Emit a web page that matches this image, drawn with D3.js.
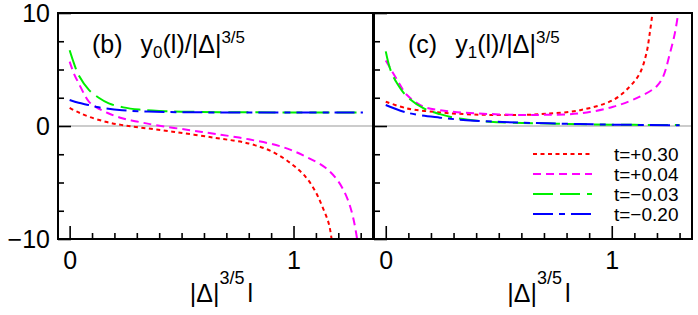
<!DOCTYPE html>
<html><head><meta charset="utf-8">
<script src="https://cdn.jsdelivr.net/npm/d3@7/dist/d3.min.js"></script>
<style>
body{margin:0;background:#fff;}
svg{display:block;}
text{font-family:"Liberation Sans",Arial,Helvetica,sans-serif;fill:#000;}
</style></head>
<body><svg id="chart" width="698" height="315"></svg>
<script>
// ---------- data ----------
const seriesLabels = ["t=+0.30", "t=+0.04", "t=\u22120.03", "t=\u22120.20"];
const seriesColors = ["#ff0000", "#ff00ff", "#00ee00", "#0000ff"];
const seriesDash = ["4,3.5", "8,5", "20,7", "20,6,6,6"];

const xMajorTicks = [0, 1];
const xMajorLabels = ["0", "1"];
const xMinorTicks = [0.1,0.2,0.3,0.4,0.5,0.6,0.7,0.8,0.9,1.1,1.2,1.3];
const yMajorTicks = [-10, 0, 10];
const yMajorLabels = ["\u221210", "0", "10"];
const yMinorTicks = [-7.5, -5, -2.5, 2.5, 5, 7.5];

// panel (b): y0(l)/|Δ|^{3/5}
const y0_tp030 = [[0,1.6],[0.04,1.2],[0.086,0.82],[0.16,0.38],[0.23,0.1],[0.31,-0.12],[0.46,-0.5],[0.65,-1.05],[0.80,-1.55],[0.905,-2.27],[0.994,-3.4],[1.054,-4.5],[1.098,-5.8],[1.128,-7.1],[1.157,-8.6],[1.17,-10],[1.176,-11]];
const y0_tp004 = [[0,5.7],[0.02,4.6],[0.04,3.8],[0.086,2.15],[0.116,1.7],[0.17,1.15],[0.235,0.68],[0.3,0.4],[0.38,0.09],[0.53,-0.35],[0.652,-0.7],[0.80,-1.18],[0.95,-1.85],[1.054,-2.7],[1.143,-3.7],[1.20,-4.9],[1.24,-6.4],[1.265,-8.0],[1.284,-10],[1.29,-11]];
const y0_tm003 = [[0,6.7],[0.02,5.5],[0.04,4.5],[0.086,3.2],[0.13,2.5],[0.175,2.0],[0.24,1.65],[0.31,1.45],[0.4,1.33],[0.5,1.27],[0.7,1.22],[1.0,1.2],[1.31,1.2]];
const y0_tm020 = [[0,2.3],[0.04,2.05],[0.085,1.86],[0.13,1.65],[0.235,1.4],[0.35,1.28],[0.5,1.22],[0.8,1.2],[1.31,1.2]];

// panel (c): y1(l)/|Δ|^{3/5}
const y1_tp030 = [[0,2.15],[0.094,1.56],[0.24,1.2],[0.35,1.05],[0.46,0.98],[0.6,0.98],[0.71,1.08],[0.86,1.4],[1.006,2.3],[1.08,3.5],[1.124,4.66],[1.153,6.4],[1.168,8.2],[1.18,10],[1.185,11]];
const y1_tp004 = [[0,5.8],[0.05,4.1],[0.094,2.74],[0.168,1.7],[0.24,1.4],[0.316,1.22],[0.46,1.06],[0.6,0.98],[0.71,0.99],[0.86,1.12],[1.006,1.7],[1.124,2.6],[1.198,3.5],[1.227,4.36],[1.257,6.4],[1.279,8.2],[1.294,10],[1.3,11]];
const y1_tm003 = [[0,6.6],[0.021,4.96],[0.05,3.78],[0.094,2.6],[0.168,1.56],[0.24,1.05],[0.316,0.68],[0.46,0.38],[0.68,0.24],[0.9,0.15],[1.1,0.1],[1.3,0.08]];
const y1_tm020 = [[0,1.86],[0.094,1.18],[0.24,0.74],[0.39,0.47],[0.61,0.29],[0.8,0.2],[1.0,0.12],[1.3,0.07]];

const panels = [
  {id:"b", sub:"0", series:[y0_tp030, y0_tp004, y0_tm003, y0_tm020], x0:58, x1:373, leftLabels:true, legend:false},
  {id:"c", sub:"1", series:[y1_tp030, y1_tp004, y1_tm003, y1_tm020], x0:374, x1:692, leftLabels:false, legend:true}
];

// ---------- drawing ----------
const svg = d3.select("#chart");
const plotTop = 13, plotBottom = 239;
const y = d3.scaleLinear().domain([-10, 10]).range([plotBottom, plotTop]);

panels.forEach((p, pi) => {
  const x = d3.scaleLinear().domain([-0.052, 1.355]).range([p.x0, p.x1]);
  const g = svg.append("g");
  const clipId = "clip" + pi;
  svg.append("clipPath").attr("id", clipId).append("rect")
    .attr("x", p.x0).attr("y", plotTop).attr("width", p.x1 - p.x0).attr("height", plotBottom - plotTop);

  // zero line
  g.append("line").attr("x1", p.x0).attr("x2", p.x1).attr("y1", y(0)).attr("y2", y(0))
    .attr("stroke", "#999").attr("stroke-width", 1);

  // curves
  const line = d3.line().x(d => x(d[0])).y(d => y(d[1])).curve(d3.curveCatmullRom.alpha(0.5));
  const cg = g.append("g").attr("clip-path", `url(#${clipId})`);
  p.series.forEach((s, i) => {
    cg.append("path").datum(s).attr("d", line).attr("fill", "none")
      .attr("stroke", seriesColors[i]).attr("stroke-width", 2)
      .attr("stroke-dasharray", seriesDash[i]);
  });

  // axes: y minor + major (inward)
  const yMinor = g.append("g").attr("transform", `translate(${p.x0},0)`)
    .call(d3.axisLeft(y).tickValues(yMinorTicks).tickSize(-6).tickFormat(""));
  const yMajor = g.append("g").attr("transform", `translate(${p.x0},0)`)
    .call(d3.axisLeft(y).tickValues(yMajorTicks).tickSize(-13).tickPadding(8)
      .tickFormat((d, i) => p.leftLabels ? yMajorLabels[i] : ""));
  const xMinor = g.append("g").attr("transform", `translate(0,${plotBottom})`)
    .call(d3.axisBottom(x).tickValues(xMinorTicks).tickSize(-6).tickFormat(""));
  const xMajor = g.append("g").attr("transform", `translate(0,${plotBottom})`)
    .call(d3.axisBottom(x).tickValues(xMajorTicks).tickSize(-13).tickPadding(12)
      .tickFormat((d, i) => xMajorLabels[i]));
  [yMinor, yMajor, xMinor, xMajor].forEach(a => {
    a.select(".domain").remove();
    a.selectAll(".tick line").attr("stroke", "#000").attr("stroke-width", 1.6);
    a.selectAll("text").style("font-family", '"Liberation Sans",Arial,sans-serif')
      .style("font-size", "25px").attr("fill", "#000");
  });

  // frame
  g.append("rect").attr("x", p.x0).attr("y", plotTop).attr("width", p.x1 - p.x0).attr("height", plotBottom - plotTop)
    .attr("fill", "none").attr("stroke", "#000").attr("stroke-width", 2);

  // panel title
  const t = g.append("text").attr("x", p.x0 + 34).attr("y", 53).style("font-size", "25px");
  t.append("tspan").text(`(${p.id})`);
  t.append("tspan").attr("dx", 18).text("y");
  t.append("tspan").attr("dy", 5).style("font-size", "17px").text(p.sub);
  t.append("tspan").attr("dy", -5).text("(l)/|\u0394|");
  t.append("tspan").attr("dy", -10).style("font-size", "17px").text("3/5");

  // x-axis title
  const cx = (p.x0 + p.x1) / 2 + 6;
  const xt = g.append("text").attr("x", cx).attr("y", 302).attr("text-anchor", "middle").style("font-size", "25px");
  xt.append("tspan").text("|\u0394|");
  xt.append("tspan").attr("dy", -18).style("font-size", "18px").text("3/5");
  xt.append("tspan").attr("dy", 18).attr("dx", 3).text("l");

  // legend
  if (p.legend) {
    seriesLabels.forEach((lab, i) => {
      const ly = 154 + i * 20;
      g.append("line").attr("x1", 533).attr("x2", 592).attr("y1", ly).attr("y2", ly)
        .attr("stroke", seriesColors[i]).attr("stroke-width", 2).attr("stroke-dasharray", seriesDash[i]);
      g.append("text").attr("x", 614).attr("y", ly + 7).style("font-size", "19px").text(lab);
    });
  }
});
</script></body></html>
